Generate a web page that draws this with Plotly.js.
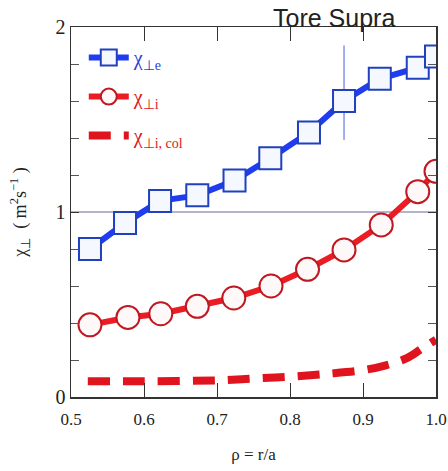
<!DOCTYPE html>
<html><head><meta charset="utf-8">
<script src="https://cdn.plot.ly/plotly-3.0.1.min.js"></script>
<style>body{margin:0;background:#fff}</style>
</head><body><div id="plot" style="width:448px;height:471px"></div>
<script>
// data
const rhoE = [0.526,0.574,0.622,0.673,0.724,0.773,0.826,0.874,0.923,0.975,1.0];
const chiE = [0.80,0.94,1.06,1.09,1.17,1.29,1.43,1.60,1.72,1.78,1.84];
const errUpE = [0,0,0,0,0,0,0,0.30,0,0,0];
const errDnE = [0,0,0,0,0,0,0,0.21,0,0,0];
const rhoI = [0.526,0.578,0.623,0.673,0.723,0.774,0.824,0.874,0.925,0.975,1.0];
const chiI = [0.39,0.43,0.45,0.49,0.535,0.60,0.69,0.795,0.93,1.11,1.22];
const rhoCol = [0.523,0.60,0.70,0.75,0.80,0.85,0.90,0.93,0.96,0.98,1.0];
const chiCol = [0.085,0.085,0.09,0.10,0.11,0.125,0.145,0.17,0.21,0.26,0.31];
const yTicks = [0,1,2];
const yTickText = ['0','1','2'];
const xTicks = [0.5,0.6,0.7,0.8,0.9,1.0];
const xTickText = ['0.5','0.6','0.7','0.8','0.9','1.0'];

const serif = '"Liberation Serif", "Times New Roman", serif';
const traces = [
  {x: rhoE, y: chiE, name: 'χ<sub>⊥e</sub>', legendgroup: 'a', mode: 'lines+markers',
   line: {color: '#1f3cf0', width: 6},
   marker: {symbol: 'square', size: 22, color: 'rgba(245,248,255,1)', line: {color: '#2040c0', width: 2}},
   error_y: {type: 'data', array: errUpE, arrayminus: errDnE, visible: true, color: '#4060e0', thickness: 1, width: 0}},
  {x: rhoI, y: chiI, name: 'χ<sub>⊥i</sub>', legendgroup: 'b', mode: 'lines+markers',
   line: {color: '#ec1c24', width: 6},
   marker: {symbol: 'circle', size: 23, color: 'rgba(255,248,248,1)', line: {color: '#c01820', width: 2}}},
  {x: rhoCol, y: chiCol, name: 'χ<sub>⊥i, col</sub>', legendgroup: 'c', mode: 'lines',
   line: {color: '#e0141e', width: 8, dash: '22px,13px', shape: 'spline'}}
];
const layout = {
  width: 448, height: 471,
  margin: {l: 71, r: 12, t: 27, b: 74},
  paper_bgcolor: '#fff', plot_bgcolor: '#fff',
  showlegend: true,
  legend: {x: 0.035, y: 0.97, xanchor: 'left', yanchor: 'top', bgcolor: 'rgba(0,0,0,0)',
    font: {family: serif, size: 20, color: '#2a3fd0'}, tracegroupgap: 10, itemwidth: 40},
  xaxis: {range: [0.5, 1.0], tickvals: xTicks, ticktext: xTickText, ticks: 'inside', ticklen: 14,
    tickcolor: '#333', showline: true, linecolor: '#333', linewidth: 1.5, mirror: 'ticks',
    showgrid: false, zeroline: false, ticklabelstandoff: 6,
    tickfont: {family: serif, size: 17, color: '#222'},
    title: {text: 'ρ = r/a', font: {family: serif, size: 17, color: '#222'}, standoff: 20}},
  yaxis: {range: [0, 2], tickvals: yTicks, ticktext: yTickText, ticks: 'inside', ticklen: 8,
    tickcolor: '#333', showline: true, linecolor: '#333', linewidth: 1.5, mirror: 'ticks',
    minor: {dtick: 0.2, ticks: 'inside', ticklen: 8, tickcolor: '#555', showgrid: false},
    showgrid: false, zeroline: false, tickfont: {family: serif, size: 20, color: '#222'},
    title: {text: 'χ<sub>⊥</sub>  ( m<sup>2</sup>s<sup>−1</sup> )', font: {family: serif, size: 18, color: '#222'}, standoff: 24}},
  shapes: [{type: 'line', xref: 'paper', yref: 'y', x0: 0, x1: 1, y0: 1, y1: 1,
    line: {color: '#6a6a9a', width: 1.2}, layer: 'below'}],
  annotations: [{text: 'Tore Supra', xref: 'paper', yref: 'paper', x: 0.72, y: 1.0,
    xanchor: 'center', yanchor: 'bottom', showarrow: false, yshift: -7,
    font: {family: '"Liberation Sans", Arial, sans-serif', size: 25, color: '#222'}}]
};
Plotly.newPlot('plot', traces, layout, {displayModeBar: false, staticPlot: true}).then(() => {
  const cols = ['#2a3fd0', '#e0141e', '#e0141e'];
  document.querySelectorAll('.legendtext').forEach((t, i) => { t.style.fill = cols[i]; });
});
</script></body></html>
